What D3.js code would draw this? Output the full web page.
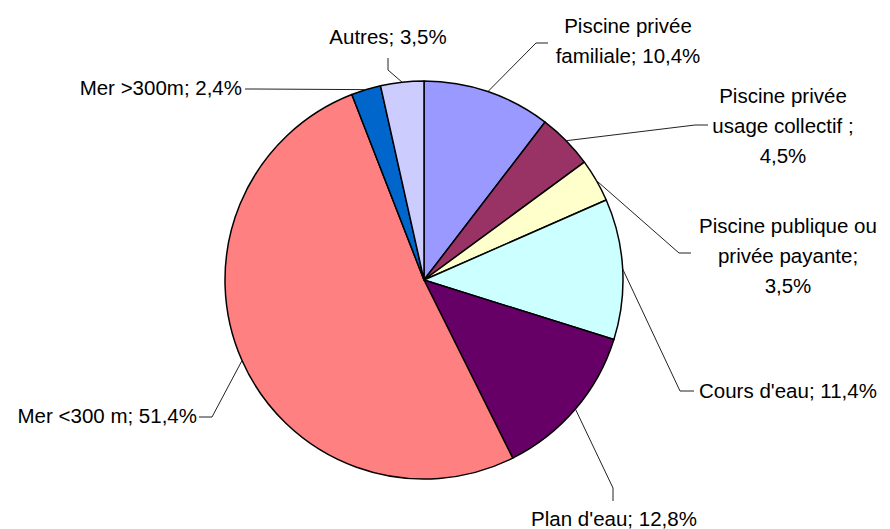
<!DOCTYPE html>
<html>
<head>
<meta charset="utf-8">
<script src="https://cdn.jsdelivr.net/npm/d3@7"></script>
<style>
  body { margin: 0; background: #fff; }
  svg text { font-family: "Liberation Sans", Arial, sans-serif; font-size: 20.5px; fill: #000; }
</style>
</head>
<body>
<svg id="chart" width="890" height="529"></svg>
<script>
// data
var categories = ["Piscine privée familiale", "Piscine privée usage collectif", "Piscine publique ou privée payante",
                  "Cours d'eau", "Plan d'eau", "Mer <300 m", "Mer >300m", "Autres"];
var values = [10.4, 4.5, 3.5, 11.4, 12.8, 51.4, 2.4, 3.5];
var labelLines = [
  ["Piscine privée", "familiale; 10,4%"],
  ["Piscine privée", "usage collectif ;", "4,5%"],
  ["Piscine publique ou", "privée payante;", "3,5%"],
  ["Cours d'eau; 11,4%"],
  ["Plan d'eau; 12,8%"],
  ["Mer <300 m; 51,4%"],
  ["Mer >300m; 2,4%"],
  ["Autres; 3,5%"]
];

var colors = ["#9999ff", "#993366", "#ffffcc", "#ccffff", "#660066", "#ff8080", "#0066cc", "#ccccff"];

// where each label and its leader elbow sit
var layout = [
  {elbow: [536, 43], end: [548, 43], x: 628, y: 26, anchor: "middle"},
  {elbow: [695, 125], end: [708, 125], x: 783, y: 96, anchor: "middle"},
  {elbow: [679, 253], end: [691, 253], x: 788, y: 226, anchor: "middle"},
  {elbow: [680, 391], end: [694, 391], x: 699, y: 391, anchor: "start"},
  {elbow: [613, 488], end: [613, 501], x: 614, y: 519, anchor: "middle"},
  {elbow: [212, 417], end: [199, 417], x: 197, y: 416, anchor: "end"},
  {elbow: [255, 89], end: [245, 89], x: 242, y: 88, anchor: "end"},
  {elbow: [388, 70], end: [388, 58], x: 388, y: 37, anchor: "middle"}
];

var cx = 424, cy = 280, radius = 199, lineH = 30;

var svg = d3.select("#chart");
var g = svg.append("g").attr("transform", "translate(" + cx + "," + cy + ")");

var pie = d3.pie().sort(null).value(function(d) { return d; });
var arcs = pie(values);

var arc = d3.arc().innerRadius(0).outerRadius(radius);

g.selectAll("path.slice")
  .data(arcs)
  .enter().append("path")
  .attr("class", "slice")
  .attr("d", arc)
  .attr("fill", function(d, i) { return colors[i]; })
  .attr("stroke", "#000")
  .attr("stroke-width", 1.5)
  .attr("stroke-linejoin", "round");

// leader lines from slice edge to label
var edge = d3.arc().innerRadius(radius).outerRadius(radius);
svg.selectAll("path.leader")
  .data(arcs)
  .enter().append("path")
  .attr("class", "leader")
  .attr("d", function(d, i) {
    var p = edge.centroid(d);
    var l = layout[i];
    return d3.line()([[p[0] + cx, p[1] + cy], l.elbow, l.end]);
  })
  .attr("fill", "none")
  .attr("stroke", "#222")
  .attr("stroke-width", 1);

// labels
var labels = svg.selectAll("text.label")
  .data(arcs)
  .enter().append("text")
  .attr("class", "label")
  .attr("text-anchor", function(d, i) { return layout[i].anchor; });

labels.each(function(d, i) {
  var l = layout[i];
  d3.select(this).selectAll("tspan")
    .data(labelLines[i])
    .enter().append("tspan")
    .attr("x", l.x)
    .attr("y", function(t, j) { return l.y + j * lineH + 7.3; })
    .text(function(t) { return t; });
});
</script>
</body>
</html>
